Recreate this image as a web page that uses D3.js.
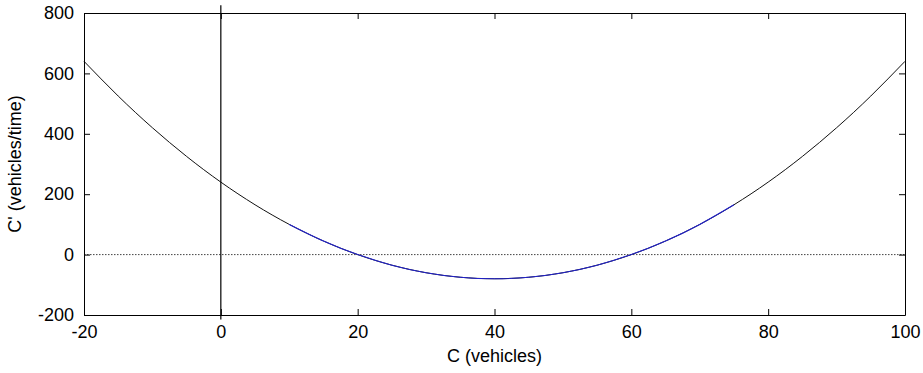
<!DOCTYPE html>
<html>
<head>
<meta charset="utf-8">
<script src="https://cdn.jsdelivr.net/npm/d3@7"></script>
<style>
  html, body { margin: 0; padding: 0; background: #fff; }
  svg { display: block; }
  text { font-family: "Liberation Sans", Arial, sans-serif; fill: #000; }
</style>
</head>
<body>
<svg id="chart" width="923" height="373"></svg>
<script>
// Rate of change C' against vehicle count C
const cValues = [-20, -15, -10, -5, 0, 5, 10, 15, 20, 25, 30, 35, 40, 45, 50, 55, 60, 65, 70, 75, 80, 85, 90, 95, 100];
const rateValues = [640, 525, 420, 325, 240, 165, 100, 45, 0, -35, -60, -75, -80, -75, -60, -35, 0, 45, 100, 165, 240, 325, 420, 525, 640];
// Stretch of the curve drawn in blue
const blueRange = [10, 75];

const xTicks = [-20, 0, 20, 40, 60, 80, 100];
const yTicks = [-200, 0, 200, 400, 600, 800];
const xDomain = [-20, 100];
const yDomain = [-200, 800];
const xLabel = "C (vehicles)";
const yLabel = "C' (vehicles/time)";
// Vertical reference line at C = 0, running a little past the frame
const refLineX = 0;
const refLineSpan = [-215, 826];

const margin = { left: 84, top: 13, right: 18, bottom: 58 };
const width = 923, height = 373;

const svg = d3.select("#chart");
const x = d3.scaleLinear().domain(xDomain).range([margin.left, width - margin.right]);
const y = d3.scaleLinear().domain(yDomain).range([height - margin.bottom, margin.top]);

const points = cValues.map((c, i) => ({ c, v: rateValues[i] }));

const fontSize = 18;
const tickLen = 6;
const plainNumber = d => String(d);

// Dotted zero line
svg.append("line")
  .attr("x1", x(xDomain[0])).attr("x2", x(xDomain[1]))
  .attr("y1", y(0)).attr("y2", y(0))
  .attr("stroke", "#444").attr("stroke-width", 1)
  .attr("stroke-dasharray", "1.5,1.5");

// Curve
const line = d3.line().x(d => x(d.c)).y(d => y(d.v)).curve(d3.curveNatural);
svg.append("path")
  .datum(points)
  .attr("fill", "none").attr("stroke", "#111").attr("stroke-width", 1)
  .attr("d", line);
svg.append("path")
  .datum(points.filter(d => d.c >= blueRange[0] && d.c <= blueRange[1]))
  .attr("fill", "none").attr("stroke", "#2222cc").attr("stroke-width", 1.1)
  .attr("d", line);

// Axes box
const g = svg.append("g");
const bottomAxis = d3.axisBottom(x).tickValues(xTicks).tickSizeInner(-tickLen).tickSizeOuter(0).tickPadding(10).tickFormat(plainNumber);
const topAxis = d3.axisTop(x).tickValues(xTicks).tickSizeInner(-tickLen).tickSizeOuter(0).tickFormat("");
const leftAxis = d3.axisLeft(y).tickValues(yTicks).tickSizeInner(-tickLen).tickSizeOuter(0).tickPadding(10).tickFormat(plainNumber);
const rightAxis = d3.axisRight(y).tickValues(yTicks).tickSizeInner(-tickLen).tickSizeOuter(0).tickFormat("");

function styleAxis(sel) {
  sel.selectAll("path.domain").attr("stroke", "#000").attr("stroke-width", 1);
  sel.selectAll(".tick line").attr("stroke", "#000").attr("stroke-width", 1);
  sel.selectAll(".tick text").attr("font-size", fontSize).attr("font-family", "'Liberation Sans', Arial, sans-serif").attr("fill", "#000");
}

g.append("g").attr("transform", `translate(0,${y(yDomain[0])})`).call(bottomAxis).call(styleAxis);
g.append("g").attr("transform", `translate(0,${y(yDomain[1])})`).call(topAxis).call(styleAxis);
g.append("g").attr("transform", `translate(${x(xDomain[0])},0)`).call(leftAxis).call(styleAxis);
g.append("g").attr("transform", `translate(${x(xDomain[1])},0)`).call(rightAxis).call(styleAxis);

// Vertical reference line
svg.append("line")
  .attr("x1", x(refLineX)).attr("x2", x(refLineX))
  .attr("y1", y(refLineSpan[0])).attr("y2", y(refLineSpan[1]))
  .attr("stroke", "#000").attr("stroke-width", 1.2);

// Axis titles
svg.append("text")
  .attr("x", (x(xDomain[0]) + x(xDomain[1])) / 2)
  .attr("y", 362)
  .attr("text-anchor", "middle")
  .attr("font-size", fontSize)
  .text(xLabel);

svg.append("text")
  .attr("transform", `translate(21,${(y(yDomain[0]) + y(yDomain[1])) / 2}) rotate(-90)`)
  .attr("text-anchor", "middle")
  .attr("font-size", fontSize)
  .text(yLabel);
</script>
</body>
</html>
